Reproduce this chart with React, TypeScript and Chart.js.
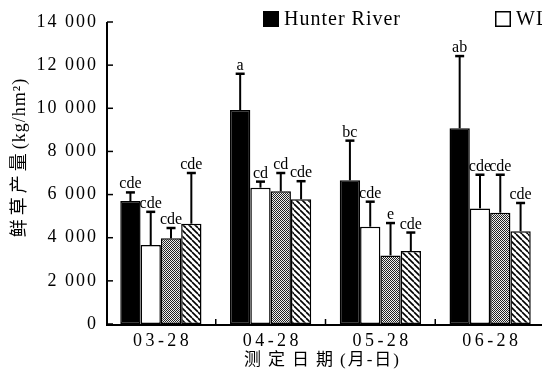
import React, { useEffect, useRef } from "react";
import { Chart, registerables } from "chart.js";
Chart.register(...registerables);

const categories = ["03-28", "04-28", "05-28", "06-28"];
const seriesNames = ["Hunter River", "WL323", "WL414", "WL525HQ"];
const hunterRiver = [5700, 9920, 6660, 9070];
const wlSeries2 = [3660, 6320, 4510, 5360];
const wlSeries3 = [3970, 6150, 3180, 5160];
const wlSeries4 = [4650, 5780, 3380, 4300];
const errHunter = [400, 1680, 1840, 3350];
const err2 = [1540, 280, 1160, 1560];
const err3 = [480, 850, 1500, 1760];
const err4 = [2350, 840, 860, 1310];
const letHunter = ["cde", "a", "bc", "ab"];
const let2 = ["cde", "cd", "cde", "cde"];
const let3 = ["cde", "cd", "e", "cde"];
const let4 = ["cde", "cde", "cde", "cde"];
const yMax = 14000;
const yStep = 2000;
const yTitleMain = "鲜草产量";
const yTitleUnit = "(kg/hm²)";
const xTitleMain = "测定日期";
const xTitleUnit = "(月-日)";

const SERIF = "'Liberation Serif', 'Noto Sans CJK SC', serif";

function fmt(v: number): string {
  const s = String(Math.round(v));
  return s.replace(/\B(?=(\d{3})+(?!\d))/g, " ");
}

function makeDots(): CanvasPattern | string {
  const c = document.createElement("canvas");
  c.width = 2;
  c.height = 2;
  const g = c.getContext("2d");
  if (!g) return "#888";
  g.fillStyle = "#f0f0f0";
  g.fillRect(0, 0, 2, 2);
  g.fillStyle = "#222";
  g.fillRect(0, 0, 1, 1);
  g.fillRect(1, 1, 1, 1);
  const p = g.createPattern(c, "repeat");
  return p || "#888";
}

function makeHatch(): CanvasPattern | string {
  const s = 6;
  const c = document.createElement("canvas");
  c.width = s;
  c.height = s;
  const g = c.getContext("2d");
  if (!g) return "#aaa";
  g.fillStyle = "#fff";
  g.fillRect(0, 0, s, s);
  g.strokeStyle = "#000";
  g.lineWidth = 1.6;
  for (let k = -1; k <= 1; k++) {
    g.beginPath();
    g.moveTo(k * s, 0);
    g.lineTo(k * s + s, s);
    g.stroke();
  }
  const p = g.createPattern(c, "repeat");
  return p || "#aaa";
}

type Seg = [string, number];

function drawSegs(
  ctx: CanvasRenderingContext2D,
  segs: Seg[],
  x: number,
  y: number,
  font: string,
  align: CanvasTextAlign,
  baseline: CanvasTextBaseline
) {
  ctx.save();
  ctx.font = font;
  ctx.fillStyle = "#000";
  ctx.textBaseline = baseline;
  ctx.textAlign = "left";
  const widths = segs.map(([t, sp]) => {
    (ctx as any).letterSpacing = sp + "px";
    return ctx.measureText(t).width;
  });
  const total = widths.reduce((a, b) => a + b, 0) - segs[segs.length - 1][1];
  let sx = x;
  if (align === "center") sx = x - total / 2;
  else if (align === "right") sx = x - total;
  segs.forEach(([t, sp], i) => {
    (ctx as any).letterSpacing = sp + "px";
    ctx.fillText(t, sx, y);
    sx += widths[i];
  });
  ctx.restore();
}

export default function App() {
  const ref = useRef<HTMLCanvasElement | null>(null);

  useEffect(() => {
    const canvas = ref.current;
    if (!canvas) return;
    const errors = [errHunter, err2, err3, err4];
    const letters = [letHunter, let2, let3, let4];
    const fills: (string | CanvasPattern)[] = ["#000", "#fff", makeDots(), makeHatch()];
    const values = [hunterRiver, wlSeries2, wlSeries3, wlSeries4];

    const overlay = {
      id: "overlay",
      afterDatasetsDraw(chart: any) {
        const ctx: CanvasRenderingContext2D = chart.ctx;
        const ys = chart.scales.y;
        chart.data.datasets.forEach((ds: any, i: number) => {
          const meta = chart.getDatasetMeta(i);
          meta.data.forEach((bar: any, j: number) => {
            const v = ds.data[j];
            const top = ys.getPixelForValue(v + errors[i][j]);
            ctx.save();
            ctx.strokeStyle = "#000";
            ctx.lineWidth = 2;
            ctx.beginPath();
            ctx.moveTo(bar.x, bar.y);
            ctx.lineTo(bar.x, top);
            ctx.stroke();
            ctx.lineWidth = 2.5;
            ctx.beginPath();
            ctx.moveTo(bar.x - 4.5, top);
            ctx.lineTo(bar.x + 4.5, top);
            ctx.stroke();
            ctx.restore();
            drawSegs(ctx, [[letters[i][j], 0]], bar.x, top - 4, "16px " + SERIF, "center", "alphabetic");
          });
        });
      },
      afterDraw(chart: any) {
        const ctx: CanvasRenderingContext2D = chart.ctx;
        const a = chart.chartArea;
        const xs = chart.scales.x;
        const ys = chart.scales.y;
        ctx.save();
        ctx.strokeStyle = "#000";
        ctx.lineWidth = 2;
        ctx.beginPath();
        ctx.moveTo(a.left + 1, a.top);
        ctx.lineTo(a.left + 1, a.bottom + 1);
        ctx.lineTo(chart.width, a.bottom + 1);
        ctx.stroke();
        ctx.lineWidth = 1.5;
        ys.ticks.forEach((t: any) => {
          const y = ys.getPixelForValue(t.value);
          ctx.beginPath();
          ctx.moveTo(a.left + 1, y);
          ctx.lineTo(a.left + 7, y);
          ctx.stroke();
        });
        const n = categories.length;
        for (let k = 1; k <= n; k++) {
          const x = (xs.getPixelForValue(k - 1) + (k < n ? xs.getPixelForValue(k) : 2 * xs.getPixelForValue(k - 1) - xs.getPixelForValue(k - 2))) / 2;
          ctx.beginPath();
          ctx.moveTo(x, a.bottom + 1);
          ctx.lineTo(x, a.bottom - 5);
          ctx.stroke();
        }
        ctx.restore();

        ys.ticks.forEach((t: any) => {
          const y = ys.getPixelForValue(t.value);
          drawSegs(ctx, [[fmt(t.value), 2]], a.left - 10, y, "18px " + SERIF, "right", "middle");
        });
        categories.forEach((c, i) => {
          const x = xs.getPixelForValue(i);
          drawSegs(ctx, [[c, 3.5]], x, a.bottom + 17, "18px " + SERIF, "center", "middle");
        });
        drawSegs(ctx, [[xTitleMain, 7], [xTitleUnit, 2]], (a.left + a.right) / 2 - 4, a.bottom + 37, "17px " + SERIF, "center", "middle");

        ctx.save();
        ctx.translate(20, 158);
        ctx.rotate(-Math.PI / 2);
        drawSegs(ctx, [[yTitleMain, 4], [yTitleUnit, 1]], 0, 0, "18px " + SERIF, "center", "middle");
        ctx.restore();

        // legend
        const lx = [263, 495, 727, 959];
        chart.data.datasets.forEach((ds: any, i: number) => {
          const x0 = lx[i];
          if (x0 > chart.width) return;
          ctx.save();
          ctx.fillStyle = fills[i];
          ctx.fillRect(x0, 11, 16, 16);
          ctx.strokeStyle = "#000";
          ctx.lineWidth = 1.5;
          ctx.strokeRect(x0 + 0.75, 11.75, 14.5, 14.5);
          ctx.restore();
          drawSegs(ctx, [[ds.label, 1]], x0 + 21, 19.5, "20px " + SERIF, "left", "middle");
        });
      },
    };

    const chart = new Chart(canvas, {
      type: "bar",
      data: {
        labels: categories,
        datasets: values.map((d, i) => ({
          label: seriesNames[i],
          data: d,
          backgroundColor: fills[i] as any,
          borderColor: "#000",
          borderWidth: 1.5,
          borderSkipped: false as any,
          categoryPercentage: 0.74,
          barPercentage: 1.0,
        })),
      },
      options: {
        responsive: false,
        animation: false,
        devicePixelRatio: 1,
        layout: { padding: { left: 106, top: 22, right: 15, bottom: 50 } },
        plugins: { legend: { display: false }, tooltip: { enabled: false }, title: { display: false } },
        scales: {
          x: { display: false },
          y: { display: false, min: 0, max: yMax, ticks: { stepSize: yStep } },
        },
      },
      plugins: [overlay],
    });
    return () => chart.destroy();
  }, []);

  return (
    <div style={{ position: "absolute", left: 0, top: 0, width: 542, height: 374, overflow: "hidden", background: "#fff" }}>
      <canvas ref={ref} width={560} height={374} style={{ display: "block", width: 560, height: 374 }} />
    </div>
  );
}
